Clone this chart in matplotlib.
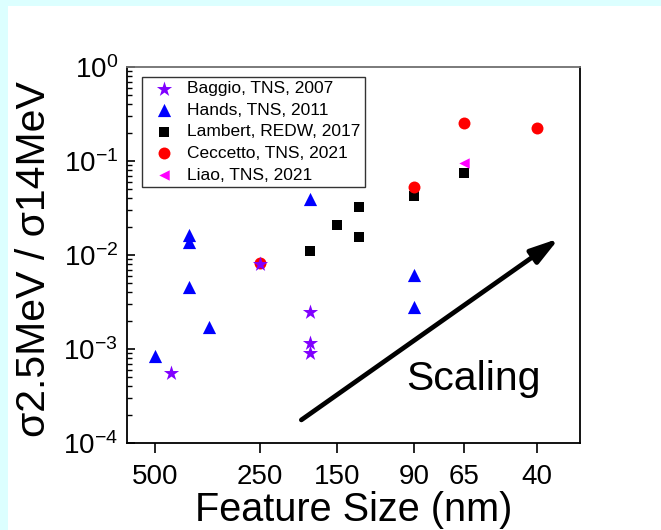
import matplotlib
matplotlib.use("Agg")
import matplotlib.pyplot as plt
from matplotlib.patches import Rectangle
from matplotlib.ticker import FixedLocator, FixedFormatter, NullLocator, LogLocator

plt.rcParams['font.family'] = ['Liberation Sans', 'DejaVu Sans']
plt.rcParams['mathtext.fontset'] = 'custom'
plt.rcParams['mathtext.rm'] = 'Liberation Sans'
plt.rcParams['mathtext.it'] = 'Liberation Sans:italic'
plt.rcParams['mathtext.bf'] = 'Liberation Sans:bold'

# Data (feature size in nm, cross-section ratio)
baggio_x = [450, 250, 180, 180, 180]
baggio_y = [5.6e-4, 8.0e-3, 2.45e-3, 1.15e-3, 9.0e-4]

hands_x = [500, 400, 400, 400, 350, 180, 90, 90]
hands_y = [8.4e-4, 1.63e-2, 1.38e-2, 4.6e-3, 1.73e-3, 3.9e-2, 6.1e-3, 2.77e-3]

lambert_x = [180, 150, 130, 130, 90, 65]
lambert_y = [1.11e-2, 2.09e-2, 3.22e-2, 1.57e-2, 4.28e-2, 7.5e-2]

ceccetto_x = [250, 90, 65, 40]
ceccetto_y = [8.2e-3, 5.3e-2, 2.56e-1, 2.24e-1]

liao_x = [65]
liao_y = [9.45e-2]

x_ticks = [500, 250, 150, 90, 65, 40]
x_tick_labels = ["500", "250", "150", "90", "65", "40"]

# scaling arrow (data coordinates)
arrow_start = (190, 1.76e-4)
arrow_end = (34.6, 1.5e-2)

fig = plt.figure(figsize=(6.61, 5.30), dpi=100)
fig.patch.set_facecolor('#dcffff')
# white panel, leaves a cyan strip on the left and top
fig.patches.append(Rectangle((8 / 661, 0), 1, 1 - 6 / 530, transform=fig.transFigure,
                             facecolor='white', edgecolor='none', zorder=-10))

ax = fig.add_axes([127 / 661, 87 / 530, 453 / 661, 376 / 530])
ax.set_facecolor('white')

ax.scatter(lambert_x, lambert_y, marker='s', s=7.8 ** 2, color='black', linewidths=0,
           zorder=3, label='Lambert, REDW, 2017')
ax.scatter(ceccetto_x, ceccetto_y, marker='o', s=8.6 ** 2, color='red', linewidths=0,
           zorder=4, label='Ceccetto, TNS, 2021')
ax.scatter(liao_x, liao_y, marker='<', s=7.5 ** 2, color='magenta', linewidths=0,
           zorder=5, label='Liao, TNS, 2021')
ax.scatter(hands_x, hands_y, marker='^', s=9.5 ** 2, color='blue', linewidths=0,
           zorder=5, label='Hands, TNS, 2011')
ax.scatter(baggio_x, baggio_y, marker='*', s=11.5 ** 2, color='#8000ff', linewidths=0,
           zorder=6, label='Baggio, TNS, 2007')

ax.set_xscale('log')
ax.set_yscale('log')
ax.set_xlim(601.7, 30.1)
ax.set_ylim(1e-4, 1)

ax.xaxis.set_major_locator(FixedLocator(x_ticks))
ax.xaxis.set_major_formatter(FixedFormatter(x_tick_labels))
ax.xaxis.set_minor_locator(NullLocator())
ax.yaxis.set_major_locator(LogLocator(base=10, numticks=10))
ax.yaxis.set_minor_locator(LogLocator(base=10, subs=range(2, 10), numticks=10))

ax.tick_params(axis='x', which='major', direction='out', length=7, width=1.2,
               labelsize=20, pad=8, top=False)
ax.tick_params(axis='y', which='major', direction='in', length=6, width=1.2,
               labelsize=20, pad=6.5, right=False)
ax.tick_params(axis='y', which='minor', direction='in', length=3.5, width=1.0, right=False)

for side in ['left', 'bottom', 'right']:
    ax.spines[side].set_linewidth(1.3)
    ax.spines[side].set_color('black')
ax.spines['top'].set_linewidth(1.3)
ax.spines['top'].set_color('#707070')

ax.set_xlabel('Feature Size (nm)', fontsize=28.5)
ax.xaxis.set_label_coords(0.5, -0.128)
ax.set_ylabel('σ2.5MeV / σ14MeV', fontsize=29.5)
ax.yaxis.set_label_coords(-0.163, 0.49)

# legend in the same order as the original
handles, labels = ax.get_legend_handles_labels()
order = ['Baggio, TNS, 2007', 'Hands, TNS, 2011', 'Lambert, REDW, 2017',
         'Ceccetto, TNS, 2021', 'Liao, TNS, 2021']
hmap = dict(zip(labels, handles))
leg = ax.legend([hmap[k] for k in order], order, loc='upper left',
                bbox_to_anchor=(0.033, 0.974), borderaxespad=0, fontsize=12.5,
                frameon=True, fancybox=False, shadow=False, borderpad=0.25,
                labelspacing=0.37, handlelength=2.0, handletextpad=0.35,
                scatterpoints=1)
leg.get_frame().set_edgecolor('black')
leg.get_frame().set_linewidth(1.0)

# scaling arrow and text
ax.annotate('', xy=arrow_end, xytext=arrow_start,
            arrowprops=dict(arrowstyle='-|>,head_length=0.85,head_width=0.25',
                            mutation_scale=20, lw=3.4, color='black',
                            shrinkA=0, shrinkB=0))
ax.text(95, 3.66e-4, 'Scaling', fontsize=29.5, ha='left', va='baseline')

fig.savefig('out.png', dpi=100)
